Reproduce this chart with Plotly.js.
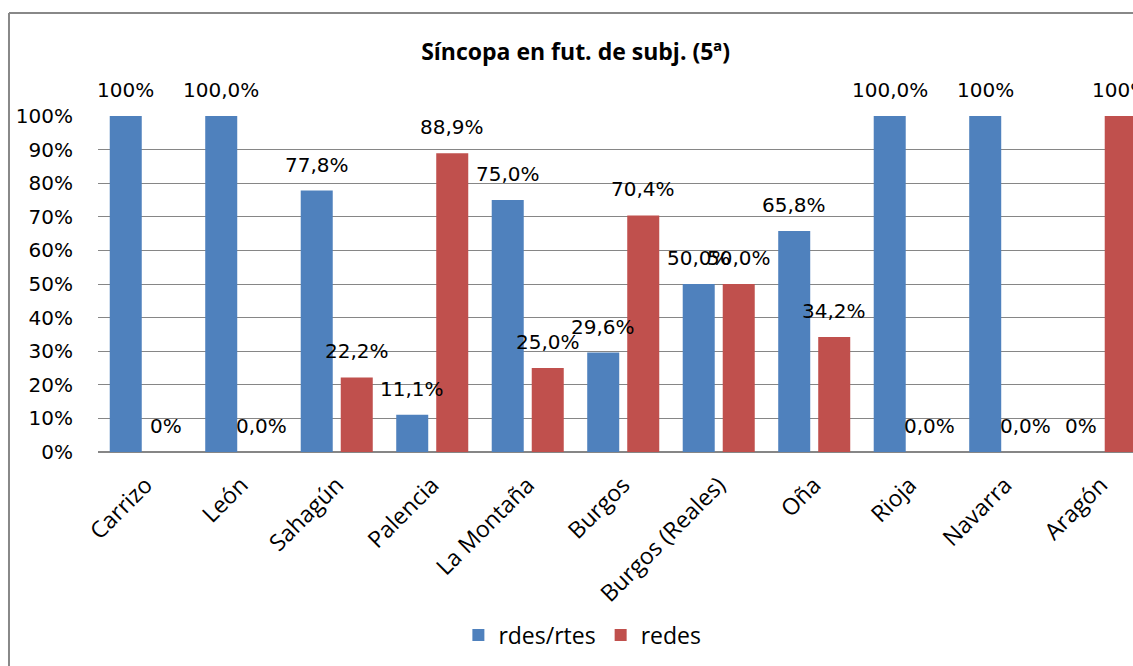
<!DOCTYPE html>
<html>
<head>
<meta charset="utf-8">
<script src="https://cdn.plot.ly/plotly-3.0.1.min.js"></script>
<style>html,body{margin:0;padding:0;background:#fff;}#chart{width:1133px;height:666px;}</style>
</head>
<body>
<div id="chart"></div>
<script>
var categories = ["Carrizo","León","Sahagún","Palencia","La Montaña","Burgos","Burgos (Reales)","Oña","Rioja","Navarra","Aragón"];
var rdesValues = [100, 100, 77.8, 11.1, 75.0, 29.6, 50.0, 65.8, 100, 100, 0];
var redesValues = [0, 0, 22.2, 88.9, 25.0, 70.4, 50.0, 34.2, 0, 0, 100];
var rdesLabels = ["100%","100,0%","77,8%","11,1%","75,0%","29,6%","50,0%","65,8%","100,0%","100%","0%"];
var redesLabels = ["0%","0,0%","22,2%","88,9%","25,0%","70,4%","50,0%","34,2%","0,0%","0,0%","100%"];
var yTickVals = [0,10,20,30,40,50,60,70,80,90,100];
var yTickText = ["0%","10%","20%","30%","40%","50%","60%","70%","80%","90%","100%"];

var numFont = {family: "DejaVu Sans", size: 20, color: "#000"};
var textFont = {family: "Open Sans", size: 23, color: "#000"};

var traces = [
  {type: "bar", name: "rdes/rtes", x: categories, y: rdesValues, marker: {color: "#4F81BD"}},
  {type: "bar", name: "redes", x: categories, y: redesValues, marker: {color: "#C0504D"}}
];

var annotations = [];
categories.forEach(function(c, i) {
  annotations.push({x: c, y: rdesValues[i], xref: "x", yref: "y", text: rdesLabels[i], showarrow: false,
    xshift: -20, yshift: 26, yanchor: "middle", xanchor: "center", font: numFont});
  annotations.push({x: c, y: redesValues[i], xref: "x", yref: "y", text: redesLabels[i], showarrow: false,
    xshift: 20, yshift: 26, yanchor: "middle", xanchor: "center", font: numFont});
});

var layout = {
  width: 1133, height: 666,
  margin: {l: 98, r: 0, t: 116, b: 214},
  paper_bgcolor: "#fff", plot_bgcolor: "#fff",
  barmode: "group", bargap: 0.162, bargroupgap: 0.2,
  title: {text: "<b>Síncopa en fut. de subj. (5ª)</b>", x: 0.508, xref: "container", xanchor: "center",
    y: 0.922, yref: "container", yanchor: "middle", font: {family: "Open Sans", size: 23, color: "#000"}},
  xaxis: {type: "category", range: [-0.5, 10.338], tickangle: -45, tickfont: textFont, showgrid: false,
    showline: false, ticks: "", zeroline: false, automargin: false, ticklabelstandoff: 14},
  yaxis: {range: [0, 100], tickvals: yTickVals, ticktext: yTickText, tickfont: numFont, showgrid: true,
    gridcolor: "#868686", gridwidth: 1, zeroline: true, zerolinecolor: "#868686", zerolinewidth: 2,
    showline: false, ticks: "", automargin: false, ticklabelstandoff: 24, fixedrange: true},
  showlegend: true,
  legend: {orientation: "h", x: 0.468, xanchor: "center", y: -0.545, yanchor: "middle", font: textFont,
    bgcolor: "rgba(0,0,0,0)"},
  annotations: annotations,
  shapes: [
    {type: "line", xref: "paper", yref: "paper", x0: -0.086, x1: 1.2, y0: 1.3065, y1: 1.3065, line: {color: "#888", width: 2}},
    {type: "line", xref: "paper", yref: "paper", x0: -0.086, x1: -0.086, y0: 1.3065, y1: -1, line: {color: "#888", width: 2}}
  ],
  hovermode: false
};

Plotly.newPlot("chart", traces, layout, {staticPlot: true, displayModeBar: false});
</script>
</body>
</html>
